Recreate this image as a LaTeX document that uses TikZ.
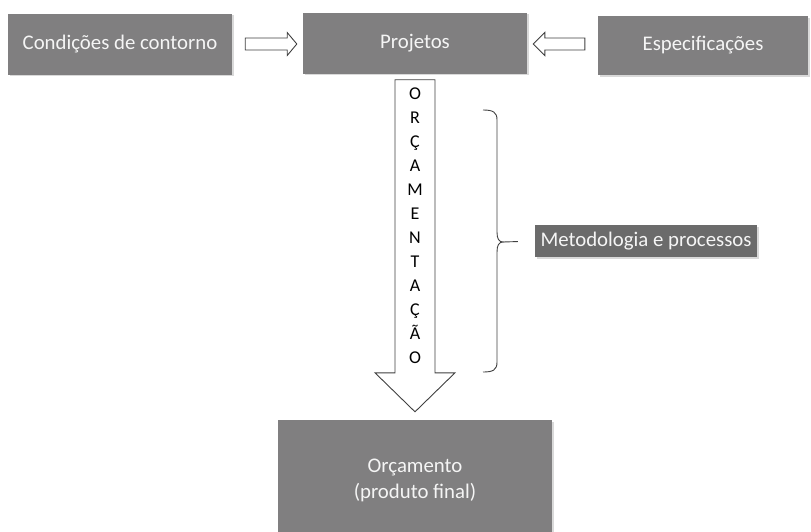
\documentclass[tikz,border=0pt]{standalone}
\usepackage{fontspec}
\setmainfont{Carlito}
\usetikzlibrary{calc,shadows}

\definecolor{boxgrau}{RGB}{128,127,128}
\definecolor{boxdunkel}{RGB}{107,107,107}
\definecolor{liniengrau}{RGB}{64,64,64}

\tikzset{
	kasten/.style={fill=boxgrau, text={rgb:white,245;black,10}, minimum width=224pt,
		minimum height=61pt, align=center, font=\fontsize{20.8}{26}\selectfont,
		drop shadow={shadow xshift=1.5pt, shadow yshift=-1.5pt, fill=black, opacity=0.15}},
	pfeil/.style={draw=liniengrau, line width=0.9pt, fill=white, line join=miter},
	linie/.style={draw=liniengrau, line width=0.9pt}
}

\begin{document}
\begin{tikzpicture}[x=1pt, y=-1pt]
	\useasboundingbox (0,0) rectangle (811,531);
	% Kaesten oben
	\node[kasten] (cond) at (120, 44) {Condições de contorno};
	\node[kasten] (proj) at (415, 43) {Projetos};
	\node[kasten, minimum width=210pt, minimum height=59pt] (espec) at (703, 45.5) {Especificações};
	% Kasten unten
	\node[kasten, minimum width=274pt, minimum height=120pt] (orc) at (415, 480)
		{Orçamento\\(produto final)};
	% Kasten rechts
	\node[kasten, fill=boxdunkel, minimum width=222pt, minimum height=32pt] (metod) at (646, 241)
		{Metodologia e processos};

	% Blockpfeile oben
	\draw[pfeil] ($(cond.east)+(13,-6)$) -- ++(42,0) -- ++(0,-5.5) -- ($(proj.west)+(-6,1)$)
		-- ($(cond.east)+(55,11.5)$) -- ++(0,-5.5) -- ++(-42,0) -- cycle;
	\draw[pfeil] ($(espec.west)+(-13,-7.5)$) -- ++(-40,0) -- ++(0,-5.5) -- ($(proj.east)+(6,1)$)
		-- ($(espec.west)+(-53,10)$) -- ++(0,-5.5) -- ++(40,0) -- cycle;

	% Blockpfeil nach unten
	\draw[pfeil] ($(proj.south)+(-20,6)$) -- ($(orc.north)+(-20,-47)$) -- ++(-20,0)
		-- ($(orc.north)+(0,-8)$) -- ($(orc.north)+(40,-47)$) -- ++(-20,0)
		-- ($(proj.south)+(20,6)$) -- cycle;
	\node[font=\fontsize{18}{24}\selectfont, align=center] (wort) at (415, 226)
		{O\\R\\Ç\\A\\M\\E\\N\\T\\A\\Ç\\Ã\\O};

	% Klammer
	\coordinate (spitze) at (503, 242);
	\draw[linie] (483,110) .. controls (493,110) and (497,112) .. (497,120) -- (497,232)
		.. controls (497,239) and (499,242) .. (spitze)
		.. controls (499,242) and (497,245) .. (497,252) -- (497,362)
		.. controls (497,370) and (493,372) .. (483,372);
	\draw[linie] (spitze) -- (metod.west) [shorten >=17pt];
\end{tikzpicture}
\end{document}
